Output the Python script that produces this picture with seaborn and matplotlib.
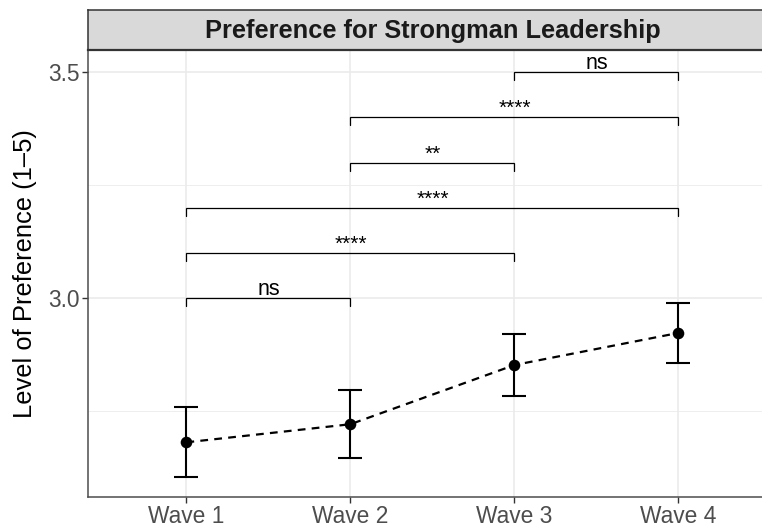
import matplotlib
matplotlib.use("Agg")
import matplotlib.pyplot as plt
import numpy as np
import pandas as pd
import seaborn as sns

waves = ["Wave 1", "Wave 2", "Wave 3", "Wave 4"]
means = [2.681, 2.721, 2.852, 2.923]
lower = [2.604, 2.646, 2.783, 2.856]
upper = [2.759, 2.796, 2.920, 2.989]

# pairwise comparisons: (from wave, to wave, bracket height, label)
pair_from = [1, 1, 1, 2, 2, 3]
pair_to = [2, 3, 4, 3, 4, 4]
pair_y = [3.0, 3.1, 3.2, 3.3, 3.4, 3.5]
pair_label = ["ns", "****", "****", "**", "****", "ns"]

title = "Preference for Strongman Leadership"
ylabel = "Level of Preference (1\u20135)"

sns.set_theme(style="whitegrid")
plt.rcParams["font.family"] = ["Liberation Sans", "DejaVu Sans"]

df = pd.DataFrame({"pos": np.arange(1, len(waves) + 1), "mean": means,
                   "lower": lower, "upper": upper})

fig = plt.figure(figsize=(7.62, 5.29), dpi=100)
ax = fig.add_axes([0.1155, 0.0605, 0.904, 0.845])

grid_col = "#EBEBEB"
for yv in [2.75, 3.25]:
    ax.axhline(yv, color=grid_col, lw=0.6, zorder=0)
for yv in [3.0, 3.5]:
    ax.axhline(yv, color=grid_col, lw=1.2, zorder=0)
for xv in df["pos"]:
    ax.axvline(xv, color=grid_col, lw=1.2, zorder=0)
ax.grid(False)

sns.lineplot(data=df, x="pos", y="mean", ax=ax, color="black",
             lw=1.6, linestyle=(0, (3.5, 2.8)), zorder=3)
ax.errorbar(df["pos"], df["mean"],
            yerr=[df["mean"] - df["lower"], df["upper"] - df["mean"]],
            fmt="none", ecolor="black", elinewidth=1.5, capsize=8.6,
            capthick=1.5, zorder=4)
sns.scatterplot(data=df, x="pos", y="mean", ax=ax, color="black",
                s=70, edgecolor="black", linewidth=0, zorder=5)

tip = 0.018
for a, b, h, lab in zip(pair_from, pair_to, pair_y, pair_label):
    ax.plot([a, a, b, b], [h - tip, h, h, h - tip], color="black",
            lw=0.9, zorder=3, solid_joinstyle="miter")
    ax.text((a + b) / 2, h + 0.007, lab, ha="center", va="baseline",
            fontsize=15 if lab != "ns" else 15.5, color="black")

ax.set_xlim(0.4, 4.6)
ax.set_ylim(2.56, 3.549)
ax.set_xticks(df["pos"])
ax.set_xticklabels(waves)
ax.set_yticks([3.0, 3.5])
ax.set_yticklabels(["3.0", "3.5"])
ax.set_xlabel("")
ax.set_ylabel(ylabel, fontsize=18.4, color="black", labelpad=8)
ax.tick_params(axis="both", labelsize=16.4, labelcolor="#4D4D4D",
               length=4, width=1.0, color="#333333", direction="out",
               left=True, bottom=True, pad=2)

for side in ["left", "bottom"]:
    ax.spines[side].set_color("#4D4D4D")
    ax.spines[side].set_linewidth(1.1)
ax.spines["top"].set_visible(False)
ax.spines["right"].set_visible(False)

# facet strip
strip = fig.add_axes([0.1155, 0.9055, 0.904, 0.076])
strip.set_facecolor("#D9D9D9")
strip.set_xticks([])
strip.set_yticks([])
for s in strip.spines.values():
    s.set_color("#333333")
    s.set_linewidth(1.1)
strip.spines["bottom"].set_linewidth(1.6)
strip.text(0.5, 0.48, title, transform=strip.transAxes,
           ha="center", va="center",
           fontsize=18.3, fontweight="bold", color="#1A1A1A")

fig.savefig("out.png", dpi=100)
